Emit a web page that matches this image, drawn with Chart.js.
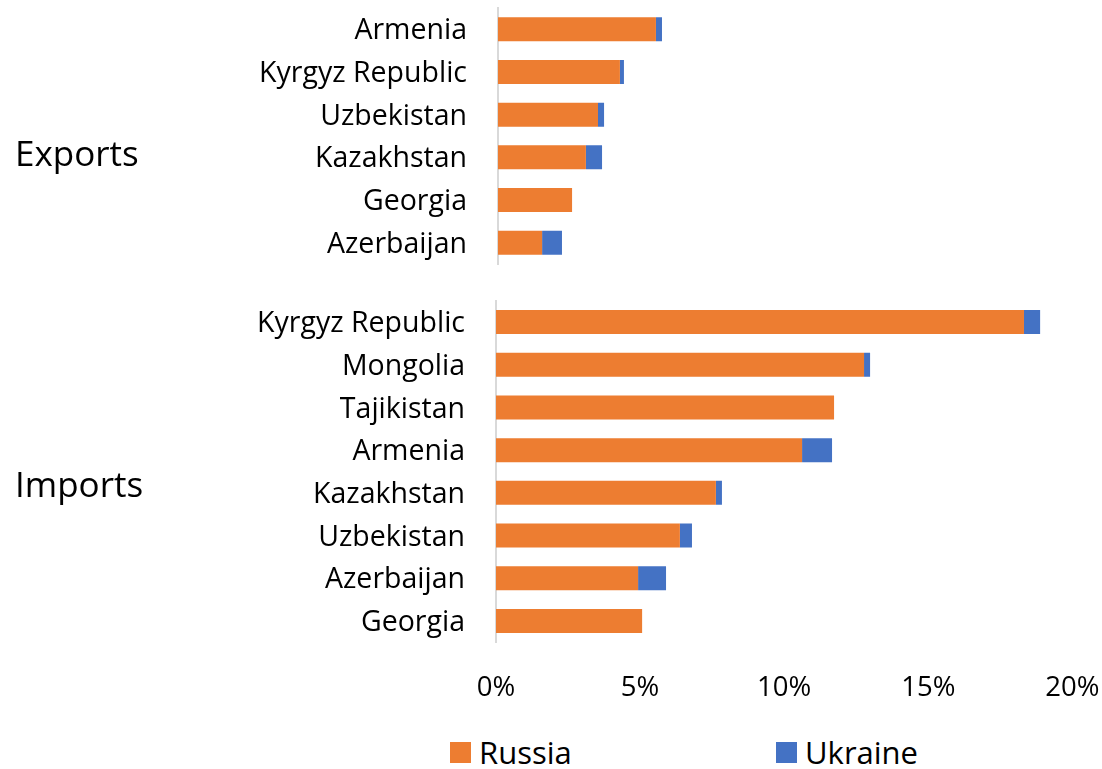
<!DOCTYPE html>
<html lang="en">
<head>
  <meta charset="UTF-8">
  <title>Russia and Ukraine share of exports and imports</title>
  <script src="https://cdn.jsdelivr.net/npm/chart.js"></script>
  <style>
    body { margin: 0; background: #fff; font-family: "Open Sans", sans-serif; color: #000; }
    #wrap { position: relative; width: 1102px; height: 769px; overflow: hidden; }
    .box { position: absolute; left: 0; width: 1102px; }
    .group { position: absolute; left: 15px; font-size: 35px; line-height: 1; }
    .legSwatch { position: absolute; width: 21px; height: 21px; }
    .legText { position: absolute; font-size: 31px; line-height: 1; }
  </style>
</head>
<body>
<div id="wrap">
  <div class="box" style="top:0;height:270px"><canvas id="exportsChart"></canvas></div>
  <div class="box" style="top:290px;height:420px"><canvas id="importsChart"></canvas></div>
  <div class="group" style="top:135px">Exports</div>
  <div class="group" style="top:466px">Imports</div>
  <div id="legend"></div>
</div>

<script>
  // series
  const seriesNames = ['Russia', 'Ukraine'];
  const seriesColors = ['#ED7D31', '#4472C4'];

  // exports, share in %
  const exportCountries = ['Armenia', 'Kyrgyz Republic', 'Uzbekistan', 'Kazakhstan', 'Georgia', 'Azerbaijan'];
  const exportRussia = [5.48, 4.23, 3.47, 3.05, 2.57, 1.53];
  const exportUkraine = [0.21, 0.14, 0.21, 0.56, 0, 0.69];

  // imports, share in %
  const importCountries = ['Kyrgyz Republic', 'Mongolia', 'Tajikistan', 'Armenia', 'Kazakhstan', 'Uzbekistan', 'Azerbaijan', 'Georgia'];
  const importRussia = [18.32, 12.77, 11.73, 10.62, 7.63, 6.38, 4.93, 5.07];
  const importUkraine = [0.56, 0.21, 0, 1.04, 0.21, 0.42, 0.97, 0];

  // x axis ticks
  const xTicks = [0, 5, 10, 15, 20];

  function makeChart(id, labels, russia, ukraine, cfg) {
    const ctx = document.getElementById(id).getContext('2d');
    return new Chart(ctx, {
      type: 'bar',
      data: {
        labels: labels,
        datasets: [russia, ukraine].map((vals, i) => ({
          label: seriesNames[i],
          data: vals,
          backgroundColor: seriesColors[i],
          borderWidth: 0,
          categoryPercentage: 1,
          barPercentage: 0.562
        }))
      },
      options: {
        indexAxis: 'y',
        responsive: true,
        maintainAspectRatio: false,
        animation: false,
        layout: { padding: { top: cfg.padTop, bottom: cfg.padBottom, right: cfg.padRight, left: 0 } },
        plugins: { legend: { display: false }, tooltip: { enabled: false } },
        scales: {
          x: {
            stacked: true,
            display: cfg.showX,
            min: 0,
            max: 20,
            afterBuildTicks: s => { s.ticks = xTicks.map(v => ({ value: v })); },
            afterFit: s => {
              if (cfg.xHeight) s.height = cfg.xHeight;
              s.paddingLeft = 0;
              s.paddingRight = 0;
            },
            grid: { display: false, drawTicks: false },
            border: { display: false },
            ticks: {
              padding: 29,
              color: '#000',
              font: { family: 'Open Sans', size: 27.5 },
              callback: v => v + '%'
            }
          },
          y: {
            stacked: true,
            afterFit: s => {
              s.width = cfg.left;
              s.paddingTop = 0;
              s.paddingBottom = 0;
            },
            grid: { display: false, drawTicks: false },
            border: { display: true, color: '#d9d9d9', width: 2 },
            ticks: {
              padding: 31,
              labelOffset: 2,
              color: '#000',
              font: { family: 'Open Sans', size: 28.5 }
            }
          }
        }
      }
    });
  }

  makeChart('exportsChart', exportCountries, exportRussia, exportUkraine,
    { left: 498, padTop: 8, padBottom: 6, padRight: 27.6, showX: false });
  makeChart('importsChart', importCountries, importRussia, importUkraine,
    { left: 496, padTop: 10.7, padBottom: 0, padRight: 29.6, showX: true, xHeight: 67.7 });

  // legend built from the series
  const legend = document.getElementById('legend');
  const legendX = [450, 776];
  seriesNames.forEach((name, i) => {
    const sw = document.createElement('div');
    sw.className = 'legSwatch';
    sw.style.left = legendX[i] + 'px';
    sw.style.top = '742px';
    sw.style.background = seriesColors[i];
    legend.appendChild(sw);
    const t = document.createElement('div');
    t.className = 'legText';
    t.style.left = (legendX[i] + 29) + 'px';
    t.style.top = '737px';
    t.textContent = name;
    legend.appendChild(t);
  });
</script>
</body>
</html>
